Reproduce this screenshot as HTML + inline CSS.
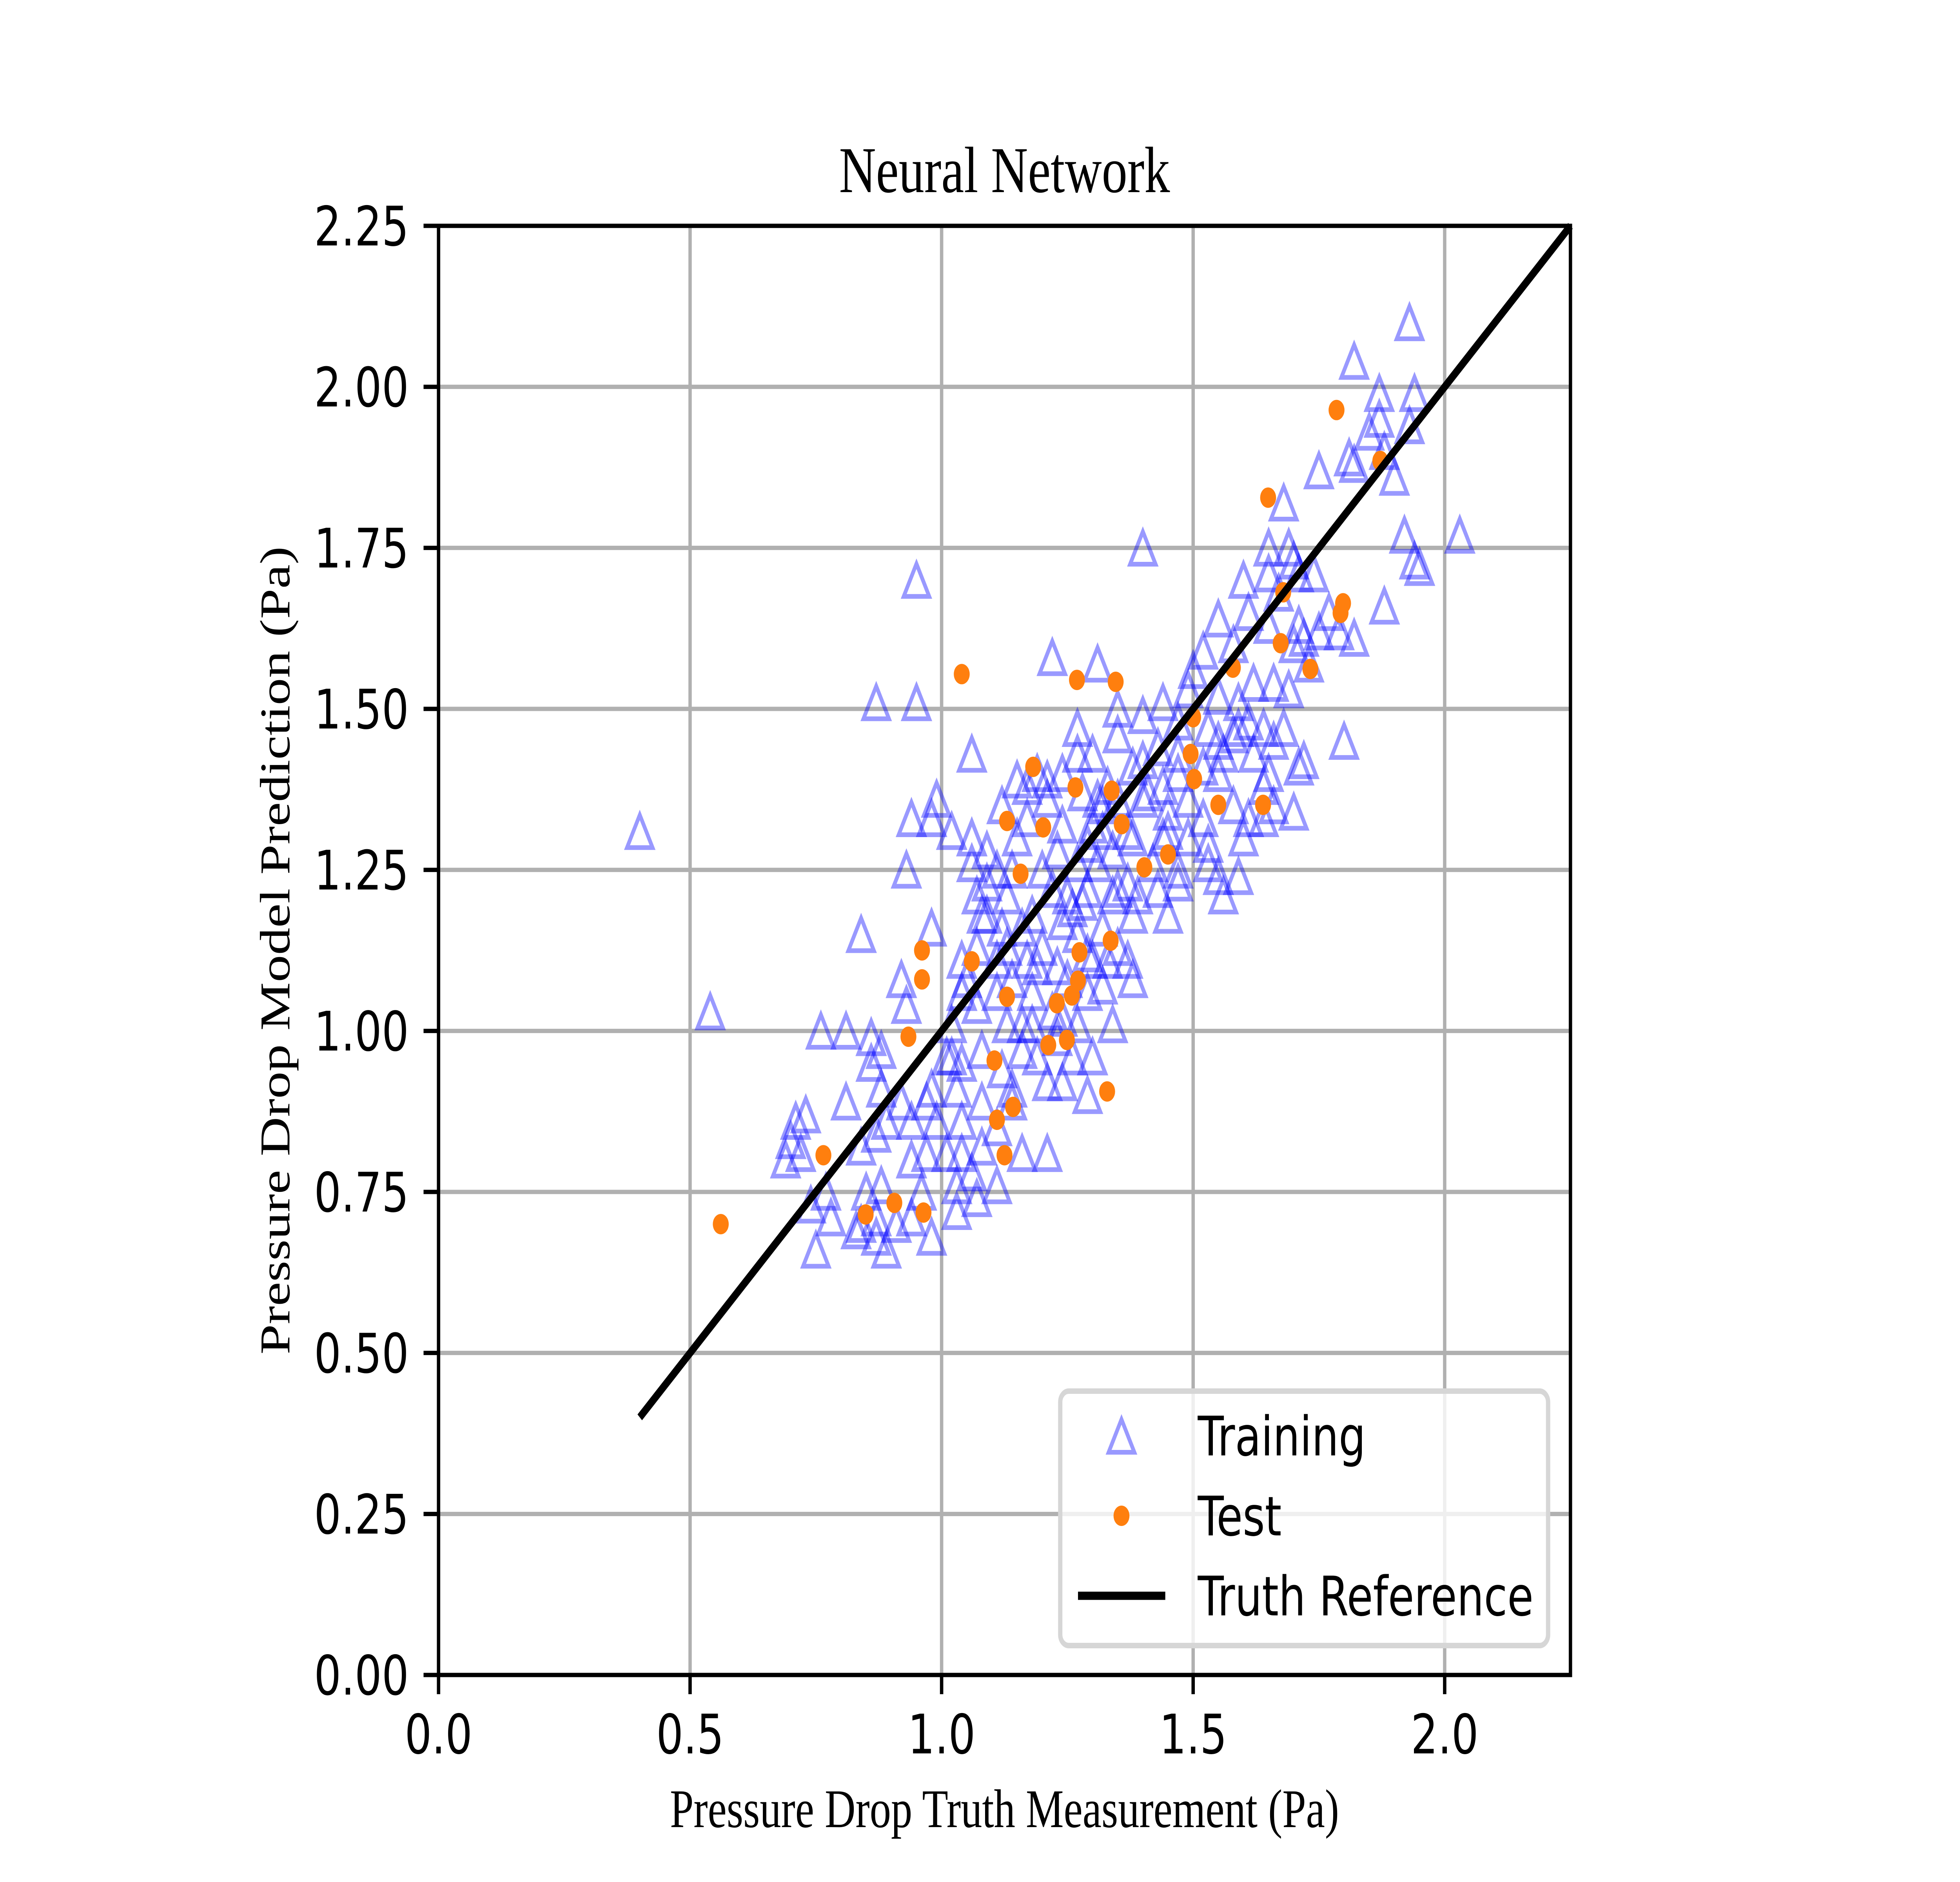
<!DOCTYPE html>
<html><head><meta charset="utf-8"><style>
html,body{margin:0;padding:0;background:#fff;width:100%;height:100%;overflow:hidden;}
svg{display:block;position:absolute;left:0;top:0;width:100vw;height:100vh;}
</style></head><body>
<svg id="chart" xmlns="http://www.w3.org/2000/svg" viewBox="0 0 6400 4800" preserveAspectRatio="none">
<rect x="0" y="0" width="6400" height="4800" fill="#fff"/>
<g id="grid"></g>
<g id="train"></g>
<g id="test"></g>
<g id="ref"></g>
<g id="axes"></g>
<text x="3280" y="490" font-family="'Liberation Serif', serif" font-size="167" text-anchor="middle">Neural Network</text>
<text x="3280" y="4660" font-family="'Liberation Serif', serif" font-size="139" text-anchor="middle">Pressure Drop Truth Measurement (Pa)</text>
<text x="0" y="0" transform="translate(945,2424) rotate(-90)" font-family="'Liberation Serif', serif" font-size="139" text-anchor="middle">Pressure Drop Model Prediction (Pa)</text>
<g>
  <rect x="3462" y="3548" width="1593" height="649" rx="28" ry="28" fill="rgba(255,255,255,0.8)" stroke="#d6d6d6" stroke-width="14"/>
  <polygon points="3662,3620 3620,3704 3704,3704" fill="none" stroke="rgba(0,0,255,0.4)" stroke-width="12"/>
  <text x="3911" y="3712" font-family="'DejaVu Sans', sans-serif" font-size="139">Training</text>
  <circle cx="3662" cy="3866" r="26" fill="#ff7f0e"/>
  <text x="3911" y="3916" font-family="'DejaVu Sans', sans-serif" font-size="139">Test</text>
  <line x1="3520" y1="4070" x2="3805" y2="4070" stroke="#000" stroke-width="21"/>
  <text x="3911" y="4120" font-family="'DejaVu Sans', sans-serif" font-size="139">Truth Reference</text>
</g>
</svg>
<script>
const xTicks = [0.0, 0.5, 1.0, 1.5, 2.0];
const xTickLabels = ["0.0", "0.5", "1.0", "1.5", "2.0"];
const yTicks = [0, 0.25, 0.5, 0.75, 1.0, 1.25, 1.5, 1.75, 2.0, 2.25];
const yTickLabels = ["0.00", "0.25", "0.50", "0.75", "1.00", "1.25", "1.50", "1.75", "2.00", "2.25"];
const refX = [0.4, 2.25];
const refY = [0.4, 2.25];
const testX = [0.561,0.765,0.849,0.906,0.964,0.934,0.961,0.961,1.040,1.060,1.105,1.110,1.125,1.130,1.130,1.142,1.157,1.182,1.202,1.212,1.229,1.249,1.259,1.266,1.269,1.271,1.274,1.329,1.336,1.338,1.346,1.358,1.403,1.450,1.495,1.500,1.502,1.550,1.579,1.639,1.649,1.674,1.679,1.733,1.785,1.793,1.798,1.872];
const testY = [0.700,0.807,0.715,0.733,0.718,0.991,1.080,1.125,1.554,1.108,0.954,0.862,0.807,1.053,1.326,0.882,1.244,1.410,1.316,0.978,1.043,0.986,1.055,1.378,1.545,1.078,1.122,0.906,1.140,1.373,1.542,1.321,1.254,1.274,1.430,1.487,1.391,1.351,1.564,1.351,1.828,1.602,1.681,1.562,1.964,1.649,1.664,1.885];
const trainX = [0.40,0.54,0.95,0.87,0.95,1.40,1.22,1.31,1.93,1.82,2.03,1.87,1.94,1.87,1.85,1.93,1.88,1.81,1.82,1.90,1.75,1.92,1.94,1.95,1.68,1.88,1.82,1.79,1.71,1.69,1.65,1.70,1.74,1.65,1.67,1.60,1.61,1.55,1.72,1.70,1.80,1.72,1.70,1.64,1.60,1.56,1.53,1.68,1.66,1.62,1.59,1.58,1.61,1.65,1.62,1.55,1.52,1.55,1.50,1.55,1.53,1.47,1.44,1.40,1.35,1.47,1.52,1.58,1.49,1.45,1.41,1.47,1.45,1.47,1.44,1.42,1.38,1.37,1.38,1.34,1.31,1.30,1.32,1.30,1.33,1.28,1.29,1.27,1.24,1.23,1.25,1.28,1.32,1.35,1.30,1.27,1.24,1.20,1.18,1.16,1.23,1.25,1.32,1.38,1.34,1.30,1.27,1.22,1.18,1.16,1.19,1.24,1.21,1.29,1.16,1.13,1.14,1.11,1.12,1.09,1.13,1.11,1.07,1.09,1.06,1.15,1.17,1.15,1.19,1.21,1.12,1.07,1.04,1.04,1.07,1.02,1.01,1.04,1.08,1.03,0.98,0.99,1.04,1.08,1.04,1.08,1.03,1.11,1.07,1.03,0.98,0.96,0.94,0.89,0.88,0.92,0.97,0.93,0.92,0.98,0.93,0.94,0.98,0.99,1.06,1.06,0.84,0.76,0.81,0.86,0.86,0.88,0.81,0.84,0.87,0.88,0.85,0.84,0.87,0.89,0.83,0.91,0.94,0.71,0.73,0.70,0.69,0.72,0.77,0.74,0.78,0.75,0.87,1.16,1.21,1.14,1.12,1.02,1.17,1.35,1.27,1.35,1.38,1.40,1.32,1.34,1.29,1.26,1.22,1.20,1.14,1.19,1.17,1.13,1.11,1.23,1.26,1.37,1.39,1.43,1.45,1.49,1.53,1.55,1.59,1.61,1.64,1.66,1.71,1.56,1.59,1.64,1.66,1.69,1.73,1.75,1.77,1.71,1.65,1.58,1.52,1.49,1.47,1.43,1.40,1.44,1.35,1.27,1.24,1.31,1.37,1.21,1.09,1.08,1.05,1.02,0.97,0.94,1.01,1.06,1.11,1.14,1.18,1.24,1.29,1.33,1.29];
const trainY = [1.31,1.03,1.70,1.51,1.51,1.75,1.58,1.57,2.10,2.04,1.77,1.99,1.99,1.95,1.93,1.94,1.90,1.89,1.88,1.86,1.87,1.77,1.73,1.72,1.82,1.66,1.61,1.62,1.71,1.75,1.75,1.73,1.71,1.71,1.68,1.70,1.65,1.64,1.61,1.60,1.45,1.42,1.34,1.33,1.30,1.21,1.26,1.47,1.54,1.54,1.51,1.46,1.48,1.40,1.43,1.45,1.41,1.40,1.56,1.52,1.47,1.43,1.51,1.49,1.46,1.40,1.33,1.35,1.30,1.34,1.37,1.25,1.18,1.23,1.30,1.26,1.30,1.23,1.18,1.21,1.26,1.32,1.35,1.43,1.38,1.37,1.29,1.26,1.32,1.28,1.21,1.20,1.16,1.13,1.11,1.15,1.17,1.13,1.18,1.16,1.10,1.08,1.07,1.08,1.01,0.96,1.01,1.03,1.06,1.01,0.96,0.92,0.92,0.90,0.97,1.01,1.08,1.11,1.16,1.18,1.21,1.25,1.21,1.28,1.30,1.30,1.33,1.39,1.40,1.39,1.35,1.13,1.11,1.06,1.04,1.01,0.96,0.95,0.97,0.91,0.91,0.86,0.86,0.89,0.81,0.82,0.76,0.76,0.74,0.72,0.68,0.75,0.80,0.86,0.91,0.89,0.81,1.04,1.08,1.16,1.25,1.33,1.33,1.36,1.43,1.26,1.15,1.00,1.00,0.99,0.95,0.97,0.89,0.82,0.84,0.76,0.75,0.70,0.68,0.66,0.69,0.70,0.71,0.86,0.87,0.83,0.80,0.81,0.75,0.73,0.71,0.66,0.71,0.81,0.81,0.89,0.94,1.31,1.38,1.22,1.47,1.50,1.41,1.36,1.31,1.28,1.22,1.19,1.22,1.25,1.25,1.10,1.11,1.13,1.06,0.99,0.96,1.11,1.21,1.22,1.31,1.36,1.29,1.24,1.24,1.33,1.38,1.35,1.41,1.43,1.47,1.47,1.45,1.53,1.57,1.62,1.65,1.63,1.63,1.60,1.59,1.53,1.48,1.44,1.42,1.38,1.36,1.43,1.40,1.36,1.31,1.36,1.23,1.18,1.08,0.96,0.89,0.86,0.81,0.78,0.85,0.91,1.01,1.02,1.06,1.11,1.12];

const L = 1432, R = 5128, T = 576, B = 4272;
const X0 = 0, X1 = 2.25, Y0 = 0, Y1 = 2.25;
function sx(v){ return L + (v - X0) / (X1 - X0) * (R - L); }
function sy(v){ return B - (v - Y0) / (Y1 - Y0) * (B - T); }
const NS = "http://www.w3.org/2000/svg";
function mk(tag, attrs, parent){
  const e = document.createElementNS(NS, tag);
  for (const k in attrs) e.setAttribute(k, attrs[k]);
  parent.appendChild(e);
  return e;
}
const gGrid = document.getElementById('grid');
const gAxes = document.getElementById('axes');
const FONT = "'DejaVu Sans', sans-serif";

xTicks.forEach((v, i) => {
  const x = sx(v);
  const gl = mk('line', {x1:x, y1:T, x2:x, y2:B, stroke:'#b0b0b0', 'stroke-width':11}, gGrid);
  
  
  const tk = mk('line', {x1:x, y1:B, x2:x, y2:B + 49, stroke:'#000', 'stroke-width':11}, gAxes);
  
  
  const tl = mk('text', {x:x, y:B + 200, 'font-family':FONT, 'font-size':139, 'text-anchor':'middle'}, gAxes);
  tl.textContent = xTickLabels[i];
  
  
});
yTicks.forEach((v, i) => {
  const y = sy(v);
  const gl = mk('line', {x1:L, y1:y, x2:R, y2:y, stroke:'#b0b0b0', 'stroke-width':11}, gGrid);
  
  
  const tk = mk('line', {x1:L - 49, y1:y, x2:L, y2:y, stroke:'#000', 'stroke-width':11}, gAxes);
  
  
  const tl = mk('text', {x:L - 97, y:y + 50, 'font-family':FONT, 'font-size':139, 'text-anchor':'end'}, gAxes);
  tl.textContent = yTickLabels[i];
  
  
});

const gTrain = document.getElementById('train');
const h = 41.7;
trainX.forEach((v, i) => {
  const x = sx(v), y = sy(trainY[i]);
  const p = mk('polygon', {points: `${x},${y - h} ${x - h},${y + h} ${x + h},${y + h}`, fill:'none', stroke:'rgba(0,0,255,0.4)', 'stroke-width':12}, gTrain);
  
  
});
const gTest = document.getElementById('test');
testX.forEach((v, i) => {
  const c = mk('circle', {cx:sx(v), cy:sy(testY[i]), r:26, fill:'#ff7f0e'}, gTest);
  
  
});
const gRef = document.getElementById('ref');
const ln = mk('line', {x1:sx(refX[0]), y1:sy(refY[0]), x2:sx(refX[1]), y2:sy(refY[1]), stroke:'#000', 'stroke-width':21}, gRef);



const frame = mk('rect', {x:L, y:T, width:R - L, height:B - T, fill:'none', stroke:'#000', 'stroke-width':11}, gAxes);


</script>
</body></html>
